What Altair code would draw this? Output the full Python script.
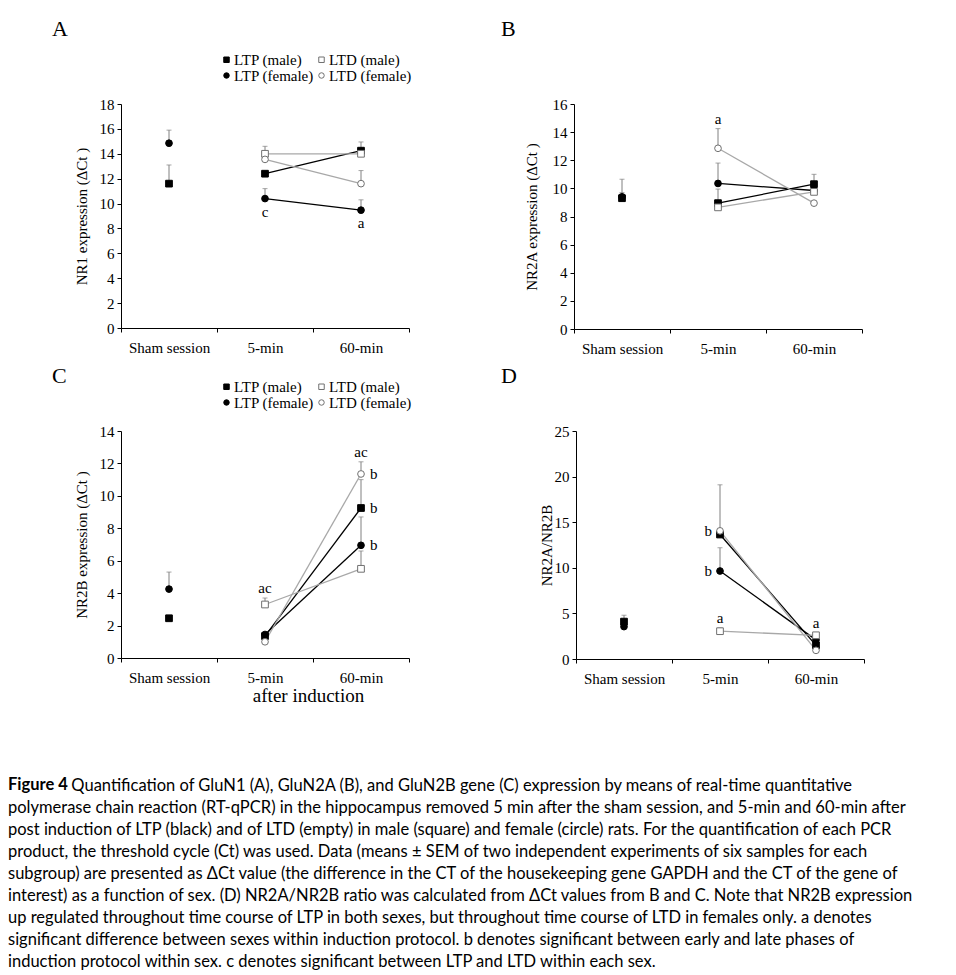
import altair as alt
import pandas as pd

TIMES = ["Sham session", "5-min", "60-min"]
# order used by the legend grid (filled column by column)
SERIES = ["LTP (male)", "LTP (female)", "LTD (male)", "LTD (female)"]

# ---- Panel A : NR1 expression (ΔCt) ----
A_LTP_M = [11.6, 12.4, 14.25]
A_LTP_M_ERR = [13.1, None, 14.95]
A_LTP_F = [14.85, 10.4, 9.47]
A_LTP_F_ERR = [15.9, 11.2, 10.3]
A_LTD_M = [None, 14.0, 14.0]
A_LTD_M_ERR = [None, 14.6, None]
A_LTD_F = [None, 13.55, 11.6]
A_LTD_F_ERR = [None, None, 12.65]
A_LABELS = [("5-min", "LTP (female)", "c", "below"),
            ("60-min", "LTP (female)", "a", "below")]

# ---- Panel B : NR2A expression (ΔCt) ----
B_LTP_M = [9.3, 8.95, 10.3]
B_LTP_M_ERR = [9.7, 9.95, 11.0]
B_LTP_F = [9.4, 10.35, 9.85]
B_LTP_F_ERR = [10.65, 11.8, None]
B_LTD_M = [None, 8.65, 9.75]
B_LTD_M_ERR = [None, None, None]
B_LTD_F = [None, 12.85, 8.95]
B_LTD_F_ERR = [None, 14.25, None]
B_LABELS = [("5-min", "LTD (female)", "a", "above")]

# ---- Panel C : NR2B expression (ΔCt) ----
C_LTP_M = [2.45, 1.35, 9.25]
C_LTP_M_ERR = [None, None, 11.0]
C_LTP_F = [4.25, 1.45, 6.95]
C_LTP_F_ERR = [5.3, None, 8.7]
C_LTD_M = [None, 3.3, 5.5]
C_LTD_M_ERR = [None, 3.7, 6.6]
C_LTD_F = [None, 1.0, 11.35]
C_LTD_F_ERR = [None, None, 12.1]
C_LABELS = [("5-min", "LTD (male)", "ac", "above"),
            ("60-min", "LTD (female)", "ac", "above"),
            ("60-min", "LTD (female)", "b", "right"),
            ("60-min", "LTP (male)", "b", "right"),
            ("60-min", "LTP (female)", "b", "right")]

# ---- Panel D : NR2A/NR2B ----
D_LTP_M = [4.1, 13.65, 1.5]
D_LTP_M_ERR = [4.8, 19.1, None]
D_LTP_F = [3.55, 9.65, 2.1]
D_LTP_F_ERR = [None, 12.2, None]
D_LTD_M = [None, 3.05, 2.6]
D_LTD_M_ERR = [None, 3.4, 2.9]
D_LTD_F = [None, 14.05, 0.95]
D_LTD_F_ERR = [None, None, None]
D_LABELS = [("5-min", "LTD (female)", "b", "left"),
            ("5-min", "LTP (female)", "b", "left"),
            ("5-min", "LTD (male)", "a", "above"),
            ("60-min", "LTD (male)", "a", "above")]

CAPTION = [
    "Quantification of GluN1 (A), GluN2A (B), and GluN2B gene (C) expression by means of real-time quantitative",
    "polymerase chain reaction (RT-qPCR) in the hippocampus removed 5 min after the sham session, and 5-min and 60-min after",
    "post induction of LTP (black) and of LTD (empty) in male (square) and female (circle) rats. For the quantification of each PCR",
    "product, the threshold cycle (Ct) was used. Data (means \u00b1 SEM of two independent experiments of six samples for each",
    "subgroup) are presented as \u0394Ct value (the difference in the CT of the housekeeping gene GAPDH and the CT of the gene of",
    "interest) as a function of sex. (D) NR2A/NR2B ratio was calculated from \u0394Ct values from B and C. Note that NR2B expression",
    "up regulated throughout time course of LTP in both sexes, but throughout time course of LTD in females only. a denotes",
    "significant difference between sexes within induction protocol. b denotes significant between early and late phases of",
    "induction protocol within sex. c denotes significant between LTP and LTD within each sex.",
]

SERIF = "Liberation Serif"
LINE_COLORS = ["#000000", "#000000", "#a8a8a8", "#a8a8a8"]
FILLS = ["#000000", "#000000", "#ffffff", "#ffffff"]
STROKES = ["#000000", "#000000", "#707070", "#707070"]
SHAPES = ["square", "circle", "square", "circle"]


def build(means, errs):
    rows = []
    for s, m, e in zip(SERIES, means, errs):
        for t, v, ev in zip(TIMES, m, e):
            if v is None:
                continue
            rows.append({"time": t, "series": s, "value": v, "err": ev})
    return pd.DataFrame(rows)


def build_labels(df, labels):
    rows = []
    for t, s, txt, pos in labels:
        r = df[(df.time == t) & (df.series == s)].iloc[0]
        anchor = r["err"] if (pos == "above" and pd.notna(r["err"])) else r["value"]
        rows.append({"time": t, "series": s, "text": txt, "pos": pos, "anchor": anchor})
    return pd.DataFrame(rows)


def panel(df, labs, ymax, ystep, ytitle, letter, height, legend_x, letter_dx,
          letter_offset, ytitle_pad, xtitle=None):
    xscale = alt.Scale(type="band", domain=TIMES, paddingInner=0, paddingOuter=0)
    if xtitle:
        xaxis = alt.Axis(title=xtitle, tickBand="extent", labelAngle=0, labelPadding=8,
                         titleX=187, titleY=28, titleFontSize=19)
    else:
        xaxis = alt.Axis(title=None, tickBand="extent", labelAngle=0, labelPadding=8)
    x = alt.X("time:N", scale=xscale, axis=xaxis)
    yscale = alt.Scale(domain=[0, ymax], nice=False, zero=True)
    yaxis = alt.Axis(title=ytitle, values=list(range(0, ymax + 1, ystep)),
                     titlePadding=ytitle_pad, labelPadding=3, labelOverlap=False)

    def Y(field):
        return alt.Y(field, scale=yscale, axis=yaxis)

    base = alt.Chart(df)
    lines = base.mark_line(strokeWidth=1.3).encode(
        x=x, y=Y("value:Q"),
        color=alt.Color("series:N", scale=alt.Scale(domain=SERIES, range=LINE_COLORS), legend=None),
        detail="series:N",
    ).transform_filter(alt.datum.time != "Sham session")
    err_rule = base.mark_rule(color="#808080", strokeWidth=1).encode(
        x=x, y=Y("value:Q"), y2="err:Q"
    ).transform_filter("isValid(datum.err)")
    err_cap = base.mark_tick(color="#808080", thickness=1, size=5).encode(
        x=x, y=Y("err:Q")
    ).transform_filter("isValid(datum.err)")
    leg = alt.Legend(title=None, orient="none", legendX=legend_x, legendY=-52, columns=2,
                     labelFont=SERIF, labelFontSize=15, labelColor="black", symbolSize=30,
                     symbolStrokeWidth=1, columnPadding=0, rowPadding=0, labelOffset=0)
    pts = base.mark_point(size=45, opacity=1, strokeWidth=1).encode(
        x=x, y=Y("value:Q"),
        shape=alt.Shape("series:N", scale=alt.Scale(domain=SERIES, range=SHAPES), legend=leg),
        fill=alt.Fill("series:N", scale=alt.Scale(domain=SERIES, range=FILLS), legend=leg),
        stroke=alt.Stroke("series:N", scale=alt.Scale(domain=SERIES, range=STROKES), legend=leg),
    )
    layers = [lines, err_rule, err_cap, pts]
    lab = alt.Chart(labs)
    offsets = {"above": dict(dy=-10), "below": dict(dy=13),
               "right": dict(dx=9, align="left"), "left": dict(dx=-8, align="right")}
    for pos, kw in offsets.items():
        if (labs.pos == pos).any():
            layers.append(
                lab.mark_text(font=SERIF, fontSize=15, color="black", baseline="middle",
                              **({"align": "center"} | kw)).encode(
                    x=x, y=Y("anchor:Q"), text="text:N"
                ).transform_filter(alt.datum.pos == pos)
            )
    return alt.layer(*layers).properties(
        width=288, height=height,
        title=alt.TitleParams(letter, anchor="start", frame="group", dx=letter_dx, font=SERIF,
                              fontSize=22, fontWeight="normal", color="black",
                              offset=letter_offset),
    )


dA = build([A_LTP_M, A_LTP_F, A_LTD_M, A_LTD_F], [A_LTP_M_ERR, A_LTP_F_ERR, A_LTD_M_ERR, A_LTD_F_ERR])
dB = build([B_LTP_M, B_LTP_F, B_LTD_M, B_LTD_F], [B_LTP_M_ERR, B_LTP_F_ERR, B_LTD_M_ERR, B_LTD_F_ERR])
dC = build([C_LTP_M, C_LTP_F, C_LTD_M, C_LTD_F], [C_LTP_M_ERR, C_LTP_F_ERR, C_LTD_M_ERR, C_LTD_F_ERR])
dD = build([D_LTP_M, D_LTP_F, D_LTD_M, D_LTD_F], [D_LTP_M_ERR, D_LTP_F_ERR, D_LTD_M_ERR, D_LTD_F_ERR])

pA = panel(dA, build_labels(dA, A_LABELS), 18, 2, "NR1 expression (\u0394Ct )", "A", 224, 98,
           -69, 56, 10)
pB = panel(dB, build_labels(dB, B_LABELS), 16, 2, "NR2A expression (\u0394Ct )", "B", 225, 98,
           -73, 56, 13)
pC = panel(dC, build_labels(dC, C_LABELS), 14, 2, "NR2B expression (\u0394Ct )", "C", 227, 98,
           -69, 36, 10, xtitle="after induction")
pD = panel(dD, build_labels(dD, D_LABELS), 25, 5, "NR2A/NR2B", "D", 228, 96,
           -75, 36, 0)

row1 = alt.hconcat(pA, pB, spacing=91)
row2 = alt.hconcat(pC, pD, spacing=91)

# zero-width space keeps the leading no-break spaces from being trimmed,
# leaving room for the bold "Figure 4" on the same line
first_line = "\u200b" + "\u00a0" * 15 + CAPTION[0]

chart = alt.vconcat(row1, row2, spacing=9).resolve_scale(
    x="independent", y="independent"
).resolve_legend(shape="independent", fill="independent", stroke="independent").properties(
    title=alt.TitleParams(
        "Figure 4",
        subtitle=[first_line] + CAPTION[1:],
        orient="bottom", anchor="start", frame="bounds",
        font="Lato", fontSize=16.5, fontWeight="bold", color="black", lineHeight=22,
        subtitleFont="Lato", subtitleFontSize=16.5, subtitleColor="black",
        subtitleLineHeight=22, subtitlePadding=-16, offset=72, dx=-44,
    ),
    padding={"left": 0, "top": 10, "right": 5, "bottom": 5},
).configure_view(stroke=None).configure_axis(
    domainColor="black", tickColor="black", labelColor="black", titleColor="black",
    labelFont=SERIF, labelFontSize=15, titleFont=SERIF, titleFontSize=15,
    titleFontWeight="normal", tickSize=4, grid=False, domainWidth=1, tickWidth=1,
)

chart.save("out.html", embed_options={"renderer": "svg", "actions": False})
